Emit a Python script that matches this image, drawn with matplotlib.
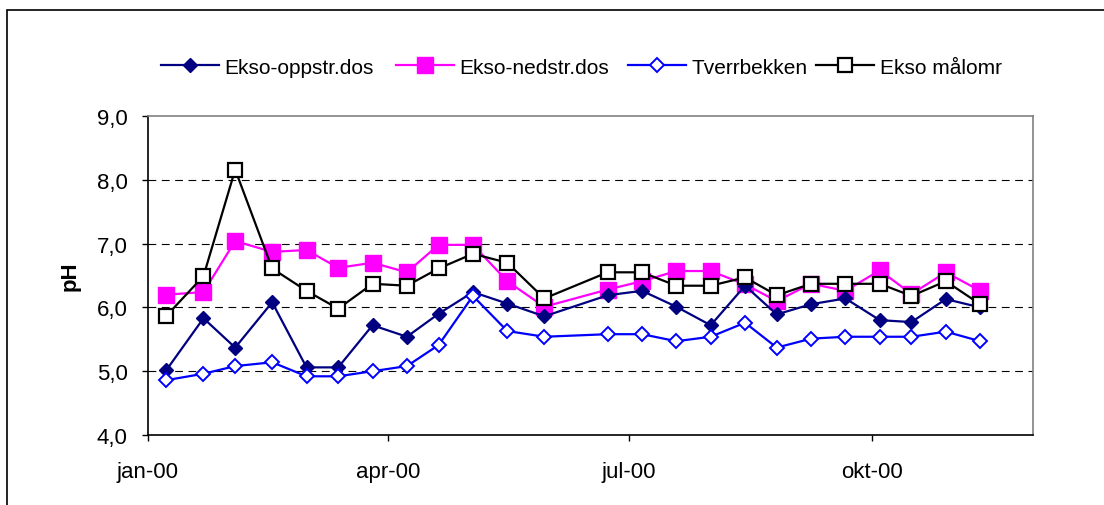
import numpy as np
import matplotlib
matplotlib.use("Agg")
import matplotlib.pyplot as plt
import matplotlib.dates as mdates
from matplotlib.patches import Rectangle
from matplotlib.ticker import FuncFormatter, MultipleLocator

plt.rcParams['font.family'] = ['Liberation Sans', 'DejaVu Sans']

# sampling dates (year 2000)
dates = ["2000-01-08", "2000-01-22", "2000-02-03", "2000-02-17", "2000-03-01",
         "2000-03-13", "2000-03-26", "2000-04-08", "2000-04-20", "2000-05-03",
         "2000-05-16", "2000-05-30", "2000-06-23", "2000-07-06", "2000-07-19",
         "2000-08-01", "2000-08-14", "2000-08-26", "2000-09-08", "2000-09-21",
         "2000-10-04", "2000-10-16", "2000-10-29", "2000-11-11"]

ekso_oppstr = [5.02, 5.83, 5.37, 6.08, 5.06, 5.06, 5.72, 5.54, 5.90, 6.24, 6.06,
               5.86, 6.19, 6.26, 6.01, 5.72, 6.34, 5.89, 6.05, 6.14, 5.80, 5.77,
               6.13, 6.00]
ekso_nedstr = [6.20, 6.24, 7.04, 6.87, 6.90, 6.62, 6.70, 6.55, 6.98, 6.98, 6.41,
               6.01, 6.28, 6.41, 6.57, 6.57, 6.36, 6.10, 6.37, 6.26, 6.58, 6.21,
               6.55, 6.26]
tverrbekken = [4.86, 4.96, 5.08, 5.14, 4.92, 4.92, 5.00, 5.08, 5.41, 6.18, 5.63,
               5.54, 5.58, 5.58, 5.47, 5.54, 5.76, 5.37, 5.51, 5.54, 5.54, 5.54,
               5.62, 5.47]
ekso_malomr = [5.87, 6.49, 8.16, 6.61, 6.26, 5.98, 6.37, 6.34, 6.61, 6.84, 6.70,
               6.14, 6.55, 6.55, 6.34, 6.34, 6.47, 6.19, 6.37, 6.37, 6.37, 6.18,
               6.41, 6.05]

month_names = ["jan", "feb", "mar", "apr", "mai", "jun",
               "jul", "aug", "sep", "okt", "nov", "des"]

x = np.array(dates, dtype="datetime64[D]")

fig = plt.figure(figsize=(11.04, 5.06), dpi=100)
ax = fig.add_axes([148 / 1104, 70 / 506, 885 / 1104, 319 / 506])

lines = []
lines += ax.plot(x, ekso_oppstr, color="#000080", lw=1.6, marker="D", ms=7.4,
                 mfc="#000080", mec="#000080", label="Ekso-oppstr.dos", zorder=4)
lines += ax.plot(x, ekso_nedstr, color="#FF00FF", lw=1.6, marker="s", ms=11,
                 mfc="#FF00FF", mec="#FF00FF", label="Ekso-nedstr.dos", zorder=3)
lines += ax.plot(x, tverrbekken, color="#0000FF", lw=1.6, marker="D", ms=6.8,
                 mfc="white", mec="#0000FF", mew=1.4, label="Tverrbekken", zorder=5)
lines += ax.plot(x, ekso_malomr, color="black", lw=1.6, marker="s", ms=10.5,
                 mfc="white", mec="black", mew=1.6, label="Ekso målomr", zorder=6)

ax.set_ylim(4.0, 9.0)
ax.set_xlim(np.datetime64("2000-01-01"), np.datetime64("2000-12-01"))
ax.yaxis.set_major_locator(MultipleLocator(1.0))
ax.yaxis.set_major_formatter(FuncFormatter(lambda v, p: f"{v:.1f}".replace(".", ",")))
ax.xaxis.set_major_locator(mdates.MonthLocator(bymonth=[1, 4, 7, 10]))
ax.xaxis.set_major_formatter(FuncFormatter(
    lambda v, p: f"{month_names[mdates.num2date(v).month - 1]}-{mdates.num2date(v).year % 100:02d}"))

for yv in [5.0, 6.0, 7.0, 8.0]:
    ax.axhline(yv, color="black", lw=0.8, dashes=(7, 5), zorder=1)

ax.tick_params(axis="y", direction="out", length=4.5, width=1, pad=10, labelsize=16)
ax.tick_params(axis="x", direction="out", length=4.5, width=1, pad=14, labelsize=16)
ax.set_ylabel("pH", fontsize=16, fontweight="bold", labelpad=12)

for side in ["left", "bottom"]:
    ax.spines[side].set_color("black")
    ax.spines[side].set_linewidth(1.2)
for side in ["top", "right"]:
    ax.spines[side].set_color("#808080")
    ax.spines[side].set_linewidth(1.2)

# one legend entry per box so each sits where the original has it
legend_x = [161, 396, 628, 816]
for ln, lx in zip(lines, legend_x):
    leg = fig.legend(handles=[ln], loc="center left",
                     bbox_to_anchor=(lx / 1104, 1 - 68 / 506),
                     frameon=False, fontsize=15, handlelength=2.8,
                     handletextpad=0.25, borderaxespad=0, borderpad=0)

# outer chart border
fig.patches.append(Rectangle((7 / 1104, -0.1), 1.2, (1 - 11 / 506) + 0.1,
                             transform=fig.transFigure, fill=False,
                             edgecolor="black", lw=1.2))

fig.savefig("out.png", dpi=100)
